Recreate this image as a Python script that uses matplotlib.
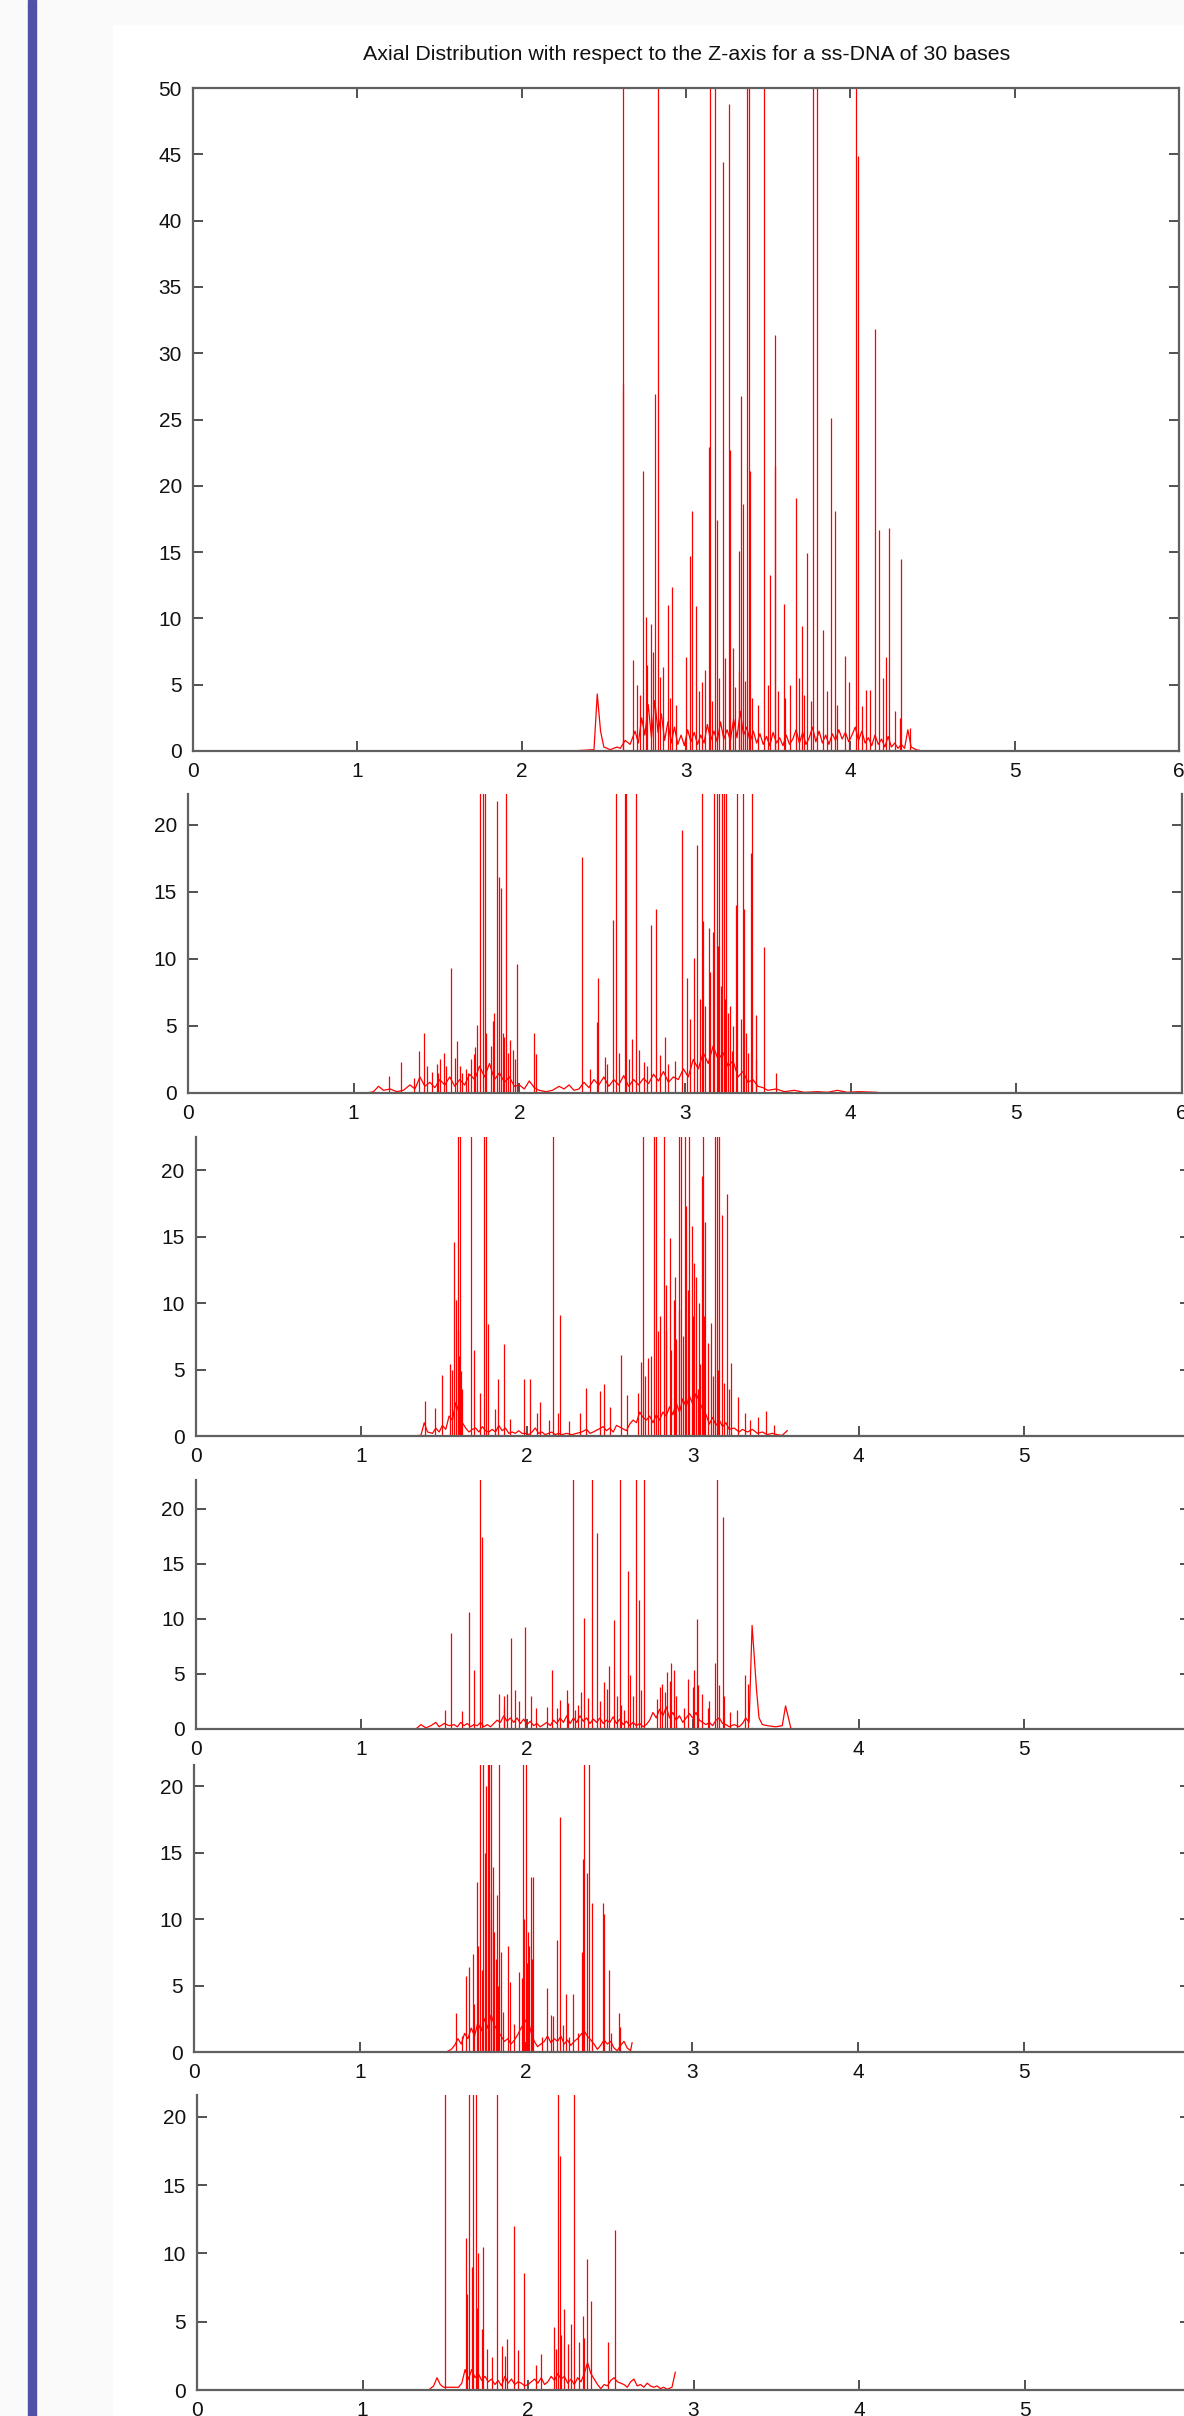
# Axial distribution along Z for a 30-base ss-DNA, six stacked panels
import matplotlib.pyplot as plt
from matplotlib.patches import Rectangle

plt.rcParams['font.family'] = ['Liberation Sans', 'DejaVu Sans']

title = "Axial Distribution with respect to the Z-axis for a ss-DNA of 30 bases"
x_ticks = [0, 1, 2, 3, 4, 5, 6]
x_ticks_cut = [0, 1, 2, 3, 4, 5]
y_ticks_top = [0, 5, 10, 15, 20, 25, 30, 35, 40, 45, 50]
y_ticks_low = [0, 5, 10, 15, 20]

# ---- panel 1 ----
p1_floor_x = [2.30, 2.44, 2.46, 2.48, 2.50, 2.54, 2.58, 2.60, 2.63, 2.66, 2.69, 2.71, 2.73, 2.75, 2.77,
              2.79, 2.81, 2.83, 2.85, 2.87, 2.89, 2.91, 2.93, 2.95, 2.97, 2.99, 3.01, 3.03, 3.05, 3.07,
              3.09, 3.11, 3.13, 3.15, 3.17, 3.19, 3.21, 3.23, 3.25, 3.27, 3.29, 3.31, 3.33, 3.35, 3.37,
              3.39, 3.41, 3.43, 3.45, 3.47, 3.49, 3.51, 3.53, 3.55, 3.57, 3.59, 3.61, 3.63, 3.65, 3.67,
              3.69, 3.71, 3.73, 3.75, 3.77, 3.79, 3.81, 3.83, 3.85, 3.87, 3.89, 3.91, 3.93, 3.95, 3.97,
              3.99, 4.01, 4.03, 4.05, 4.07, 4.09, 4.11, 4.13, 4.15, 4.17, 4.19, 4.21, 4.23, 4.25, 4.27,
              4.29, 4.31, 4.33, 4.35, 4.37, 4.40, 4.44]
p1_floor_y = [0, 0.1, 4.3, 1.5, 0.3, 0.1, 0.3, 0.2, 0.8, 0.5, 1.5, 0.6, 2.5, 1.2, 3.5,
              1.0, 3.8, 1.4, 2.8, 0.8, 2.2, 0.6, 1.8, 0.5, 1.2, 0.4, 1.6, 0.7, 1.4, 0.5,
              1.2, 0.6, 2.0, 0.8, 1.5, 0.7, 2.2, 0.9, 1.6, 0.8, 2.4, 1.0, 3.0, 1.2, 1.8,
              0.7, 1.5, 0.6, 1.3, 0.5, 1.1, 0.4, 1.4, 0.6, 1.0, 0.4, 1.2, 0.5, 0.9, 1.6,
              0.6, 1.4, 0.5, 1.0, 1.8, 0.7, 1.5, 0.6, 1.2, 0.5, 1.3, 0.8, 1.6, 0.9, 1.4,
              0.7, 1.2, 1.8, 0.8, 1.5, 0.6, 1.0, 0.4, 1.2, 0.5, 0.9, 0.3, 1.1, 0.3, 0.6,
              0.2, 0.5, 0.2, 1.6, 0.3, 0.1, 0]
p1_spike_x = [2.614, 2.617, 2.675, 2.70, 2.72, 2.740, 2.757, 2.76, 2.787, 2.80, 2.813, 2.827, 2.84, 2.86,
              2.888, 2.90, 2.915, 2.94, 3.000, 3.026, 3.037, 3.061, 3.08, 3.10, 3.116, 3.142, 3.148,
              3.16, 3.177, 3.187, 3.20, 3.224, 3.24, 3.260, 3.270, 3.289, 3.30, 3.32, 3.325, 3.335,
              3.345, 3.36, 3.372, 3.382, 3.390, 3.40, 3.44, 3.474, 3.50, 3.513, 3.539, 3.543, 3.56,
              3.594, 3.60, 3.63, 3.671, 3.69, 3.707, 3.72, 3.738, 3.76, 3.770, 3.799, 3.833, 3.86,
              3.884, 3.904, 3.92, 3.969, 3.99, 4.037, 4.047, 4.07, 4.094, 4.12, 4.148, 4.173, 4.20,
              4.220, 4.236, 4.27, 4.30, 4.311, 4.362]
p1_spike_y = [60, 27.7, 6.9, 5.0, 4.2, 21.1, 10.1, 6.5, 9.6, 7.5, 26.9, 60, 5.6, 6.3,
              11.0, 4.0, 12.4, 3.5, 7.1, 14.7, 18.1, 10.9, 4.5, 5.2, 6.1, 22.9, 60,
              3.8, 60, 17.4, 5.5, 44.4, 7.0, 48.8, 22.7, 7.8, 4.8, 6.0, 15.1, 26.8,
              18.6, 5.3, 60, 60, 21.1, 4.0, 3.5, 60, 5.0, 13.3, 31.4, 21.5, 4.5,
              11.1, 4.0, 5.0, 19.1, 5.5, 9.4, 4.2, 14.9, 3.8, 60, 60, 9.1, 4.5,
              25.1, 18.1, 3.5, 7.2, 5.2, 60, 44.9, 3.4, 4.6, 4.6, 31.8, 16.7, 5.5,
              7.1, 16.8, 3.0, 2.5, 14.5, 1.7]

# ---- panel 2 ----
p2_floor_x = [1.08, 1.12, 1.15, 1.18, 1.22, 1.26, 1.30, 1.34, 1.37, 1.40, 1.43, 1.46, 1.49, 1.52, 1.55,
              1.58, 1.61, 1.64, 1.67, 1.70, 1.73, 1.76, 1.79, 1.82, 1.85, 1.88, 1.91, 1.94, 1.97, 2.00,
              2.03, 2.06, 2.09, 2.12, 2.16, 2.20, 2.24, 2.27, 2.30, 2.33, 2.36, 2.39, 2.42, 2.45, 2.48,
              2.51, 2.54, 2.57, 2.60, 2.63, 2.66, 2.69, 2.72, 2.75, 2.78, 2.81, 2.84, 2.87, 2.90, 2.93,
              2.96, 2.99, 3.02, 3.05, 3.08, 3.11, 3.14, 3.17, 3.20, 3.23, 3.26, 3.29, 3.32, 3.35, 3.38,
              3.41, 3.44, 3.47, 3.50, 3.55, 3.60, 3.66, 3.72, 3.80, 3.86, 3.92, 3.98, 4.05, 4.16]
p2_floor_y = [0, 0.1, 0.5, 0.2, 0.3, 0.1, 0.2, 0.6, 0.3, 1.2, 0.5, 0.8, 0.4, 1.0, 0.6,
              1.2, 0.5, 1.0, 0.6, 1.4, 1.0, 2.0, 1.2, 2.2, 1.0, 1.5, 0.8, 1.2, 0.5, 0.6,
              0.3, 0.9, 0.4, 0.2, 0.1, 0.2, 0.5, 0.3, 0.6, 0.2, 0.3, 0.8, 0.4, 1.0, 0.6,
              1.2, 0.5, 1.0, 0.6, 1.3, 0.5, 1.0, 0.6, 1.1, 0.7, 1.4, 0.9, 1.6, 0.8, 1.2,
              1.0, 1.8, 1.2, 2.5, 1.8, 3.0, 2.2, 3.5, 2.5, 3.0, 2.0, 2.4, 1.2, 1.6, 0.8,
              1.0, 0.5, 0.4, 0.2, 0.3, 0.1, 0.2, 0.05, 0.1, 0.05, 0.2, 0.05, 0.1, 0.05]
p2_spike_x = [1.216, 1.283, 1.367, 1.395, 1.427, 1.44, 1.47, 1.50, 1.507, 1.524, 1.546, 1.56, 1.589,
              1.61, 1.626, 1.64, 1.654, 1.68, 1.693, 1.71, 1.725, 1.735, 1.747, 1.762, 1.779, 1.792,
              1.80, 1.83, 1.844, 1.85, 1.866, 1.876, 1.887, 1.90, 1.909, 1.917, 1.93, 1.945, 1.96,
              1.971, 1.986, 2.086, 2.103, 2.379, 2.425, 2.470, 2.476, 2.517, 2.53, 2.565, 2.582,
              2.60, 2.636, 2.643, 2.66, 2.679, 2.705, 2.72, 2.75, 2.77, 2.794, 2.822, 2.85, 2.878,
              2.90, 2.94, 2.982, 3.014, 3.03, 3.057, 3.072, 3.09, 3.100, 3.111, 3.12, 3.143, 3.15,
              3.17, 3.176, 3.191, 3.20, 3.208, 3.22, 3.225, 3.236, 3.24, 3.247, 3.262, 3.27, 3.284,
              3.29, 3.310, 3.316, 3.34, 3.348, 3.359, 3.37, 3.38, 3.396, 3.407, 3.428, 3.43, 3.474,
              3.547]
p2_spike_y = [1.3, 2.3, 1.1, 3.1, 4.45, 2.0, 1.6, 2.2, 1.5, 2.5, 3.0, 2.0, 9.3,
              2.6, 3.85, 2.0, 1.5, 1.8, 1.5, 2.5, 2.9, 3.4, 5.1, 30, 30, 30,
              4.5, 3.5, 5.4, 6.0, 21.8, 16.1, 15.3, 4.5, 4.2, 30, 3.0, 3.95, 3.2,
              2.5, 9.6, 4.5, 2.9, 17.6, 1.8, 5.3, 8.6, 2.7, 2.2, 12.9, 30,
              3.0, 30, 30, 2.5, 4.0, 30, 3.2, 2.3, 2.0, 12.5, 13.7, 2.8, 4.2,
              2.2, 2.4, 19.6, 8.55, 5.5, 10.1, 18.5, 7.0, 30, 12.8, 6.5, 12.3, 9.0,
              12.0, 30, 30, 11.0, 30, 8.0, 30, 30, 7.0, 30, 6.0, 6.5, 3.1,
              5.0, 14.0, 30, 5.5, 30, 13.7, 4.5, 3.0, 17.9, 30, 5.8, 2.5, 10.9,
              1.5]

# ---- panel 3 ----
p3_floor_x = [1.30, 1.36, 1.38, 1.40, 1.43, 1.45, 1.47, 1.49, 1.51, 1.53, 1.55, 1.57, 1.59, 1.61, 1.63,
              1.65, 1.67, 1.69, 1.71, 1.73, 1.75, 1.77, 1.79, 1.81, 1.83, 1.85, 1.87, 1.89, 1.91, 1.93,
              1.95, 1.97, 1.99, 2.01, 2.03, 2.05, 2.07, 2.09, 2.11, 2.13, 2.15, 2.17, 2.19, 2.21, 2.24,
              2.27, 2.30, 2.33, 2.36, 2.38, 2.40, 2.43, 2.46, 2.48, 2.50, 2.52, 2.54, 2.57, 2.60, 2.62,
              2.64, 2.66, 2.68, 2.70, 2.72, 2.74, 2.76, 2.78, 2.80, 2.82, 2.84, 2.86, 2.88, 2.90, 2.92,
              2.94, 2.96, 2.98, 3.00, 3.02, 3.04, 3.06, 3.08, 3.10, 3.12, 3.14, 3.16, 3.18, 3.20, 3.22,
              3.25, 3.28, 3.30, 3.33, 3.36, 3.39, 3.42, 3.45, 3.48, 3.51, 3.54, 3.57]
p3_floor_y = [0, 0.05, 1.0, 0.3, 0.2, 0.6, 0.3, 0.8, 0.5, 1.5, 1.2, 2.5, 1.8, 1.0, 0.6,
              0.3, 0.5, 0.6, 0.3, 0.7, 0.4, 0.3, 0.5, 0.3, 0.8, 0.4, 0.6, 0.2, 0.3, 0.2,
              0.4, 0.2, 0.2, 0.1, 0.3, 0.6, 0.2, 0.3, 0.1, 0.2, 0.3, 0.1, 0.2, 0.1, 0.2,
              0.1, 0.2, 0.3, 0.5, 0.2, 0.3, 0.5, 0.7, 0.4, 0.6, 0.3, 0.8, 0.6, 0.4, 0.9,
              1.2, 1.0, 1.8, 1.4, 1.2, 1.5, 1.0, 1.6, 1.2, 1.8, 1.5, 2.2, 1.6, 2.5, 1.8,
              2.8, 2.2, 3.0, 2.4, 3.2, 2.6, 2.0, 1.6, 0.9, 1.4, 0.8, 1.2, 0.7, 1.0, 0.5,
              0.6, 0.3, 0.5, 0.3, 0.5, 0.2, 0.3, 0.1, 0.2, 0.1, 0.05, 0.4]
p3_spike_x = [1.386, 1.443, 1.489, 1.537, 1.55, 1.561, 1.573, 1.581, 1.585, 1.59, 1.594, 1.602, 1.61,
              1.662, 1.682, 1.718, 1.738, 1.750, 1.763, 1.805, 1.825, 1.859, 1.899, 1.980, 2.016,
              2.060, 2.080, 2.131, 2.157, 2.185, 2.201, 2.252, 2.318, 2.358, 2.443, 2.463, 2.503,
              2.567, 2.604, 2.668, 2.688, 2.700, 2.71, 2.728, 2.75, 2.765, 2.781, 2.789, 2.80,
              2.825, 2.839, 2.84, 2.861, 2.87, 2.885, 2.89, 2.901, 2.915, 2.92, 2.932, 2.94, 2.952,
              2.962, 2.97, 2.980, 2.996, 3.00, 3.010, 3.02, 3.032, 3.04, 3.046, 3.056, 3.062, 3.07,
              3.072, 3.09, 3.111, 3.12, 3.135, 3.147, 3.15, 3.161, 3.177, 3.19, 3.207, 3.22, 3.233,
              3.272, 3.318, 3.348, 3.394, 3.443, 3.489]
p3_spike_y = [2.6, 2.1, 4.6, 5.4, 5.0, 14.6, 10.2, 30, 8.0, 6.0, 30, 4.9, 3.5,
              30, 6.5, 3.2, 30, 30, 8.4, 2.0, 4.3, 6.9, 1.3, 4.3, 4.3,
              1.7, 2.55, 1.2, 30, 1.7, 9.1, 1.1, 1.75, 3.6, 3.4, 3.9, 2.2,
              6.1, 3.1, 3.2, 5.6, 30, 4.5, 5.9, 6.0, 30, 30, 7.9, 9.0,
              30, 11.4, 8.0, 14.9, 6.5, 10.2, 12.0, 7.3, 30, 9.5, 30, 7.5, 30,
              17.3, 11.0, 30, 15.8, 9.0, 13.0, 12.0, 3.5, 10.0, 5.4, 19.6, 30, 9.0,
              16.1, 7.0, 8.5, 4.5, 30, 30, 5.0, 30, 16.6, 4.0, 18.2, 3.5, 5.5,
              2.9, 1.7, 1.2, 1.4, 1.9, 0.8]

# ---- panel 4 ----
p4_floor_x = [1.33, 1.36, 1.39, 1.42, 1.45, 1.47, 1.50, 1.53, 1.56, 1.58, 1.60, 1.62, 1.64, 1.66, 1.68,
              1.70, 1.72, 1.74, 1.76, 1.78, 1.80, 1.82, 1.84, 1.86, 1.88, 1.90, 1.92, 1.94, 1.96, 1.98,
              2.00, 2.02, 2.04, 2.06, 2.08, 2.10, 2.12, 2.14, 2.16, 2.18, 2.20, 2.22, 2.24, 2.26, 2.28,
              2.30, 2.32, 2.34, 2.36, 2.38, 2.40, 2.42, 2.44, 2.46, 2.48, 2.50, 2.52, 2.54, 2.56, 2.58,
              2.60, 2.62, 2.64, 2.66, 2.68, 2.70, 2.72, 2.74, 2.76, 2.78, 2.80, 2.82, 2.84, 2.86, 2.88,
              2.90, 2.92, 2.94, 2.96, 2.98, 3.00, 3.02, 3.04, 3.06, 3.08, 3.10, 3.12, 3.14, 3.16, 3.18,
              3.20, 3.22, 3.25, 3.28, 3.30, 3.32, 3.34, 3.358, 3.37, 3.385, 3.40, 3.42, 3.45, 3.50,
              3.54, 3.56, 3.593]
p4_floor_y = [0, 0.4, 0.1, 0.3, 0.6, 0.2, 0.5, 0.3, 0.4, 0.2, 0.6, 0.3, 0.5, 0.2, 0.4,
              0.3, 0.6, 0.2, 0.4, 0.2, 0.5, 0.8, 0.6, 1.2, 0.7, 1.0, 0.6, 1.0, 0.5, 0.9,
              0.4, 0.7, 0.3, 0.5, 0.2, 0.4, 0.6, 0.3, 0.8, 0.5, 1.0, 0.6, 1.2, 0.5, 1.0,
              0.6, 1.2, 0.7, 1.0, 0.5, 0.9, 0.6, 1.0, 0.5, 0.8, 0.6, 1.1, 0.5, 0.9, 0.4,
              0.7, 0.3, 0.6, 0.3, 0.5, 0.2, 0.4, 0.8, 1.5, 1.0, 1.8, 1.2, 2.0, 1.0, 1.5,
              0.8, 1.2, 0.6, 1.0, 1.4, 1.0, 1.5, 0.8, 0.6, 0.4, 0.6, 0.3, 0.8, 1.0, 0.5,
              0.4, 0.2, 0.4, 0.2, 0.5, 1.0, 0.6, 9.4, 6.8, 3.5, 1.0, 0.4, 0.3, 0.2,
              0.3, 2.1, 0]
p4_spike_x = [1.507, 1.541, 1.608, 1.648, 1.682, 1.714, 1.728, 1.829, 1.859, 1.86, 1.88, 1.905, 1.926,
              1.95, 1.990, 2.026, 2.056, 2.12, 2.151, 2.181, 2.20, 2.241, 2.25, 2.276, 2.292, 2.31,
              2.326, 2.346, 2.37, 2.390, 2.423, 2.44, 2.467, 2.48, 2.497, 2.527, 2.54, 2.559, 2.57,
              2.588, 2.610, 2.624, 2.64, 2.660, 2.674, 2.69, 2.704, 2.785, 2.80, 2.815, 2.83, 2.845,
              2.86, 2.869, 2.885, 2.90, 2.946, 2.97, 3.000, 3.006, 3.026, 3.03, 3.056, 3.091, 3.10,
              3.137, 3.147, 3.16, 3.183, 3.19, 3.227, 3.268, 3.318, 3.332]
p4_spike_y = [1.7, 8.7, 1.6, 10.6, 5.4, 30, 17.4, 3.2, 3.0, 2.0, 3.2, 8.3, 3.5,
              2.5, 9.3, 3.0, 1.9, 2.0, 5.4, 1.9, 2.6, 3.5, 2.4, 30, 1.7, 2.2,
              3.4, 10.1, 2.8, 30, 17.8, 2.5, 4.3, 3.6, 5.7, 9.9, 3.0, 30, 2.2,
              1.7, 14.3, 4.9, 3.0, 30, 11.7, 3.5, 30, 2.7, 3.8, 4.1, 3.4, 5.2,
              4.4, 6.0, 5.4, 3.0, 1.9, 4.5, 3.8, 5.4, 10.0, 4.0, 3.2, 1.9, 2.5,
              6.0, 30, 4.0, 19.2, 3.0, 1.5, 1.7, 4.9, 4.1]

# ---- panel 5 ----
p5_floor_x = [1.52, 1.55, 1.57, 1.59, 1.61, 1.63, 1.65, 1.67, 1.69, 1.71, 1.73, 1.75, 1.77, 1.79, 1.81,
              1.83, 1.85, 1.87, 1.89, 1.91, 1.93, 1.95, 1.97, 1.99, 2.01, 2.03, 2.05, 2.07, 2.09, 2.11,
              2.13, 2.15, 2.17, 2.19, 2.21, 2.23, 2.25, 2.27, 2.29, 2.31, 2.33, 2.35, 2.37, 2.39, 2.41,
              2.43, 2.45, 2.47, 2.49, 2.51, 2.53, 2.55, 2.57, 2.59, 2.61, 2.63, 2.639]
p5_floor_y = [0, 0.2, 0.5, 1.0, 0.6, 1.4, 1.0, 1.8, 1.2, 2.2, 1.6, 2.5, 1.8, 2.8, 2.0,
              1.6, 1.2, 0.8, 1.0, 0.6, 0.9, 1.3, 1.8, 2.2, 2.6, 1.5, 0.8, 0.4, 0.6, 0.8,
              1.2, 0.7, 1.0, 0.8, 1.2, 0.6, 0.9, 0.5, 0.8, 1.0, 1.3, 1.6, 1.2, 0.9, 0.6,
              0.2, 0.5, 0.9, 0.6, 0.8, 0.3, 0.1, 0.5, 0.8, 0.3, 0.1, 0.7]
p5_spike_x = [1.577, 1.613, 1.639, 1.659, 1.679, 1.689, 1.703, 1.71, 1.723, 1.733, 1.743, 1.75, 1.76,
              1.770, 1.778, 1.78, 1.788, 1.79, 1.804, 1.81, 1.82, 1.828, 1.83, 1.840, 1.850, 1.864,
              1.890, 1.904, 1.930, 1.958, 1.974, 1.984, 1.99, 2.000, 2.008, 2.01, 2.02, 2.030,
              2.035, 2.040, 2.094, 2.124, 2.148, 2.164, 2.184, 2.204, 2.220, 2.240, 2.261, 2.285,
              2.315, 2.335, 2.345, 2.351, 2.365, 2.381, 2.395, 2.461, 2.471, 2.497, 2.515, 2.559,
              2.569]
p5_spike_y = [2.9, 1.2, 5.7, 6.4, 7.4, 3.6, 12.8, 8.0, 30, 6.2, 30, 15.0, 20.0,
              30, 30, 12.0, 30, 10.0, 13.9, 9.0, 7.0, 11.8, 5.0, 30, 7.5, 3.0,
              8.0, 5.3, 2.1, 6.0, 5.6, 30, 10.0, 30, 6.7, 9.0, 8.0, 13.2,
              7.0, 13.2, 1.1, 4.8, 2.8, 2.7, 8.4, 17.7, 2.0, 4.4, 1.1, 4.4,
              1.4, 7.5, 14.5, 30, 13.5, 30, 11.2, 11.2, 10.4, 6.2, 1.4, 2.9,
              1.9]

# ---- panel 6 ----
p6_floor_x = [1.40, 1.43, 1.45, 1.47, 1.49, 1.52, 1.55, 1.58, 1.60, 1.62, 1.64, 1.66, 1.68, 1.70, 1.72,
              1.74, 1.76, 1.78, 1.80, 1.82, 1.84, 1.86, 1.88, 1.90, 1.92, 1.94, 1.96, 1.98, 2.00, 2.02,
              2.04, 2.06, 2.08, 2.10, 2.12, 2.14, 2.16, 2.18, 2.20, 2.22, 2.24, 2.26, 2.28, 2.30, 2.32,
              2.34, 2.36, 2.38, 2.40, 2.42, 2.44, 2.46, 2.48, 2.50, 2.52, 2.54, 2.56, 2.58, 2.60, 2.62,
              2.64, 2.66, 2.68, 2.70, 2.72, 2.74, 2.76, 2.78, 2.80, 2.82, 2.84, 2.87, 2.89]
p6_floor_y = [0, 0.3, 0.9, 0.4, 0.2, 0.2, 0.2, 0.2, 0.5, 1.5, 0.8, 1.5, 0.9, 1.2, 0.7,
              1.0, 0.6, 0.8, 0.4, 0.7, 0.3, 1.0, 0.5, 0.8, 0.4, 0.6, 0.5, 0.3, 0.4, 0.6,
              0.8, 0.5, 0.9, 0.4, 0.6, 1.0, 0.7, 1.2, 0.8, 1.0, 0.5, 0.8, 0.4, 0.9, 0.6,
              1.2, 2.0, 1.2, 0.8, 0.4, 0.1, 0.4, 0.3, 0.7, 0.9, 0.6, 0.5, 0.4, 0.2, 0.6,
              0.8, 0.3, 0.4, 0.2, 0.5, 0.3, 0.2, 0.3, 0.1, 0.2, 0.05, 0.2, 1.3]
p6_spike_x = [1.500, 1.624, 1.63, 1.642, 1.66, 1.670, 1.683, 1.69, 1.697, 1.72, 1.729, 1.75, 1.784,
              1.812, 1.844, 1.86, 1.876, 1.913, 1.940, 1.977, 2.050, 2.078, 2.156, 2.17, 2.179, 2.193,
              2.20, 2.216, 2.243, 2.26, 2.280, 2.307, 2.330, 2.34, 2.358, 2.381, 2.486, 2.523]
p6_spike_y = [25, 11.1, 7.0, 25, 9.0, 25, 25, 6.0, 10.0, 4.5, 10.5, 3.0, 2.4,
              25, 3.2, 2.5, 3.7, 12.0, 2.9, 8.6, 1.8, 2.6, 4.6, 3.0, 25, 17.1,
              4.0, 5.9, 3.4, 4.8, 25, 3.5, 5.4, 3.8, 9.6, 6.5, 3.5, 11.7]

W, H = 1184, 2416
# pixel boxes: x at 0, x at 6, top, bottom, y max
panels = [
    (193, 1179, 88, 751, 50, y_ticks_top, x_ticks, p1_floor_x, p1_floor_y, p1_spike_x, p1_spike_y),
    (188, 1182, 794, 1093, 22.3, y_ticks_low, x_ticks, p2_floor_x, p2_floor_y, p2_spike_x, p2_spike_y),
    (195.5, 1190, 1137, 1436, 22.5, y_ticks_low, x_ticks_cut, p3_floor_x, p3_floor_y, p3_spike_x, p3_spike_y),
    (195.5, 1190, 1480, 1729, 22.6, y_ticks_low, x_ticks_cut, p4_floor_x, p4_floor_y, p4_spike_x, p4_spike_y),
    (194, 1190, 1765, 2052, 21.6, y_ticks_low, x_ticks_cut, p5_floor_x, p5_floor_y, p5_spike_x, p5_spike_y),
    (197, 1190, 2095, 2390, 21.6, y_ticks_low, x_ticks_cut, p6_floor_x, p6_floor_y, p6_spike_x, p6_spike_y),
]

fig = plt.figure(figsize=(W / 100, H / 100), dpi=100)
fig.patch.set_facecolor('white')
# page background and blue side bar
fig.add_artist(Rectangle((0, 0), 112 / W, 1, transform=fig.transFigure, color='#fafafb', zorder=0))
fig.add_artist(Rectangle((0, 1 - 24 / H), 1, 24 / H, transform=fig.transFigure, color='#fafafb', zorder=0))
fig.add_artist(Rectangle((28 / W, 0), 7.5 / W, 1, transform=fig.transFigure, color='#5151a8', zorder=1))

for i, (x0, x6, top, bot, ymax, yt, xt, fx, fy, sx, sy) in enumerate(panels):
    ax = fig.add_axes([x0 / W, 1 - bot / H, (x6 - x0) / W, (bot - top) / H])
    ax.set_facecolor('white')
    ax.plot(fx, fy, color='red', lw=0.9)
    ax.vlines(sx, 0, sy, color='red', lw=0.9)
    ax.set_xlim(0, 6)
    ax.set_ylim(0, ymax)
    ax.set_xticks(xt)
    ax.set_yticks(yt)
    for s in ax.spines.values():
        s.set_color('#606060')
        s.set_linewidth(1.6)
    ax.tick_params(direction='in', length=7, width=1.2, color='#333333',
                   labelsize=15, labelcolor='#111111', pad=8,
                   top=(i == 0), right=True)
    if i > 0:
        ax.spines['top'].set_visible(False)

fig.text(687 / W, 1 - 55 / H, title, ha='center', va='center', fontsize=15.4, color='#111111')

fig.savefig('out.png', dpi=100, facecolor=fig.get_facecolor())
